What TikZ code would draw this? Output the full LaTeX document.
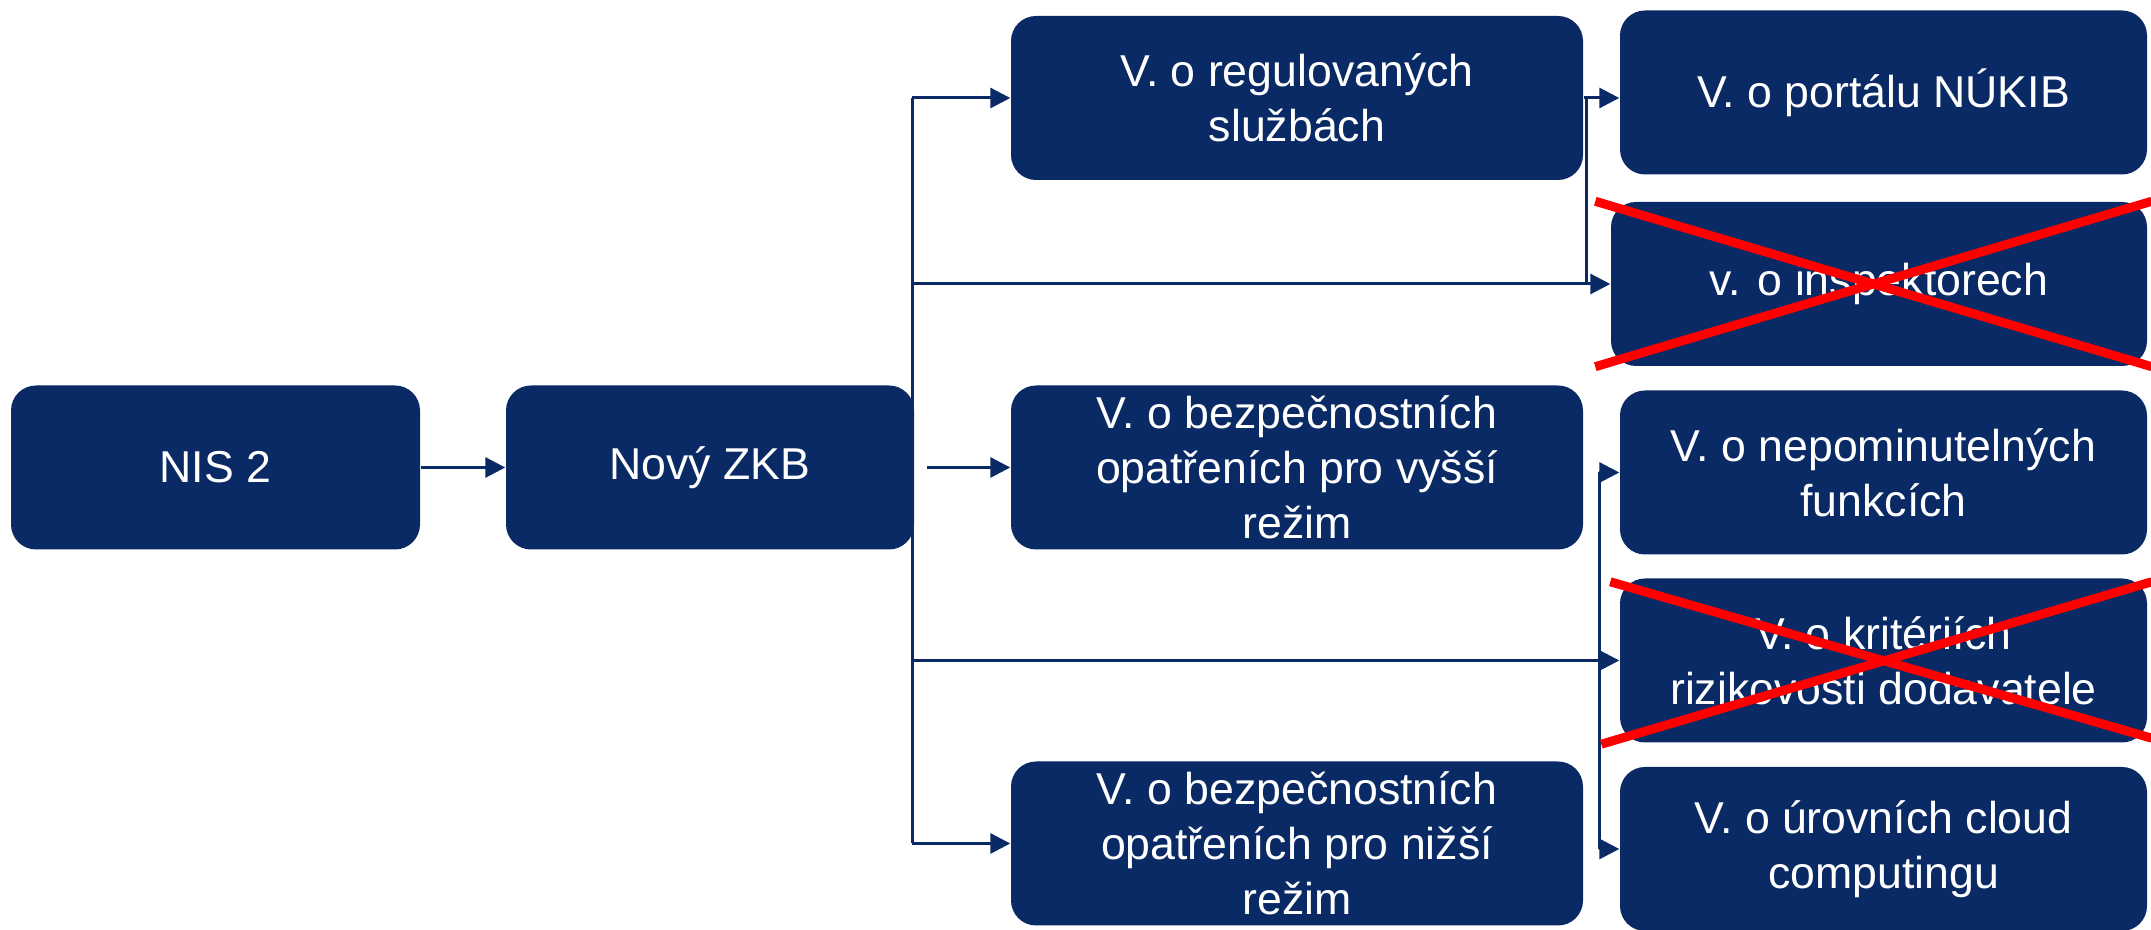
\documentclass[tikz,border=0pt]{standalone}
\usepackage{fontspec}
\setmainfont{Liberation Sans}
\usepackage{tikz}
\usetikzlibrary{arrows.meta}
\usepackage{xcolor}
\definecolor{navy}{RGB}{10,42,102}

\tikzset{
  box/.style={draw=none, rectangle, rounded corners=2.5mm, fill=navy, text=white,
              align=center, inner sep=0pt, minimum height=16.4mm,
              font=\fontsize{12.7}{15.6}\selectfont},
  link/.style={draw=navy, line width=0.3mm},
  arr/.style={link, -{Triangle[length=2mm, width=2mm]}},
  cross/.style={draw=red, line width=0.9mm}
}

\begin{document}
\begin{tikzpicture}[x=0.1mm, y=-0.1mm]
  \useasboundingbox (0,0) rectangle (2151,930);

  % left part
  \node[box, minimum width=40.9mm] (nis) at (215.5,467.5) {NIS 2};
  \node[box, minimum width=40.8mm] (zkb) at (710,467.5) {Nový ZKB};

  % middle column
  \node[box, minimum width=57.2mm] (reg) at (1297,98) {V. o regulovaných\\službách};
  \node[box, minimum width=57.2mm] (vys) at (1297,467.5) {V. o bezpečnostních\\opatřeních pro vyšší\\režim};
  \node[box, minimum width=57.2mm] (niz) at (1297,843.5) {V. o bezpečnostních\\opatřeních pro nižší\\režim};

  % right column
  \node[box, minimum width=52.7mm] (portal) at (1883.5,92.5) {V. o portálu NÚKIB};
  \node[box, minimum width=53.6mm] (insp) at (1879,284) {v. o inspektorech};
  \node[box, minimum width=52.7mm] (nepom) at (1883.5,472.5) {V. o nepominutelných\\funkcích};
  \node[box, minimum width=52.7mm] (krit) at (1883.5,660.5) {V. o kritériích\\rizikovosti dodavatele};
  \node[box, minimum width=52.7mm] (cloud) at (1883.5,849) {V. o úrovních cloud\\computingu};

  \coordinate (trunk) at (912,467.5);
  \coordinate (br) at (1599,660);

  % arrows
  \draw[arr] (nis) -- (zkb);
  \draw[link] (trunk |- reg.west) -- (trunk |- niz.west);
  \draw[arr] (trunk |- reg.west) -- (reg.west);
  \draw[arr] (trunk |- insp.west) -- (insp.west);
  \draw[arr] ([xshift=1.2mm]zkb.east) -- (vys.west);
  \draw[arr] (trunk |- niz.west) -- (niz.west);
  \draw[arr] (trunk |- krit.west) -- (krit.west);

  \draw[arr] (reg.east) -- (reg.east -| portal.west);
  \draw[link] ([xshift=0.3mm]reg.east) -- ([xshift=0.3mm]reg.east |- insp.west);

  \draw[link] (br |- nepom.west) -- (br |- cloud.west);
  \draw[arr] (br |- nepom.west) -- (nepom.west);
  \draw[arr] (br |- cloud.west) -- (cloud.west);

  % crossed out
  \draw[cross] ([xshift=-1.5mm]insp.north west) -- ([xshift=0.4mm]insp.south east);
  \draw[cross] ([xshift=-1.5mm]insp.south west) -- ([xshift=0.4mm]insp.north east);
  \draw[cross] ([xshift=-0.9mm,yshift=-0.4mm]krit.north west) -- ([xshift=0.4mm,yshift=0.5mm]krit.south east);
  \draw[cross] ([xshift=-1.8mm,yshift=-0.1mm]krit.south west) -- ([xshift=0.4mm,yshift=-0.4mm]krit.north east);
\end{tikzpicture}
\end{document}
